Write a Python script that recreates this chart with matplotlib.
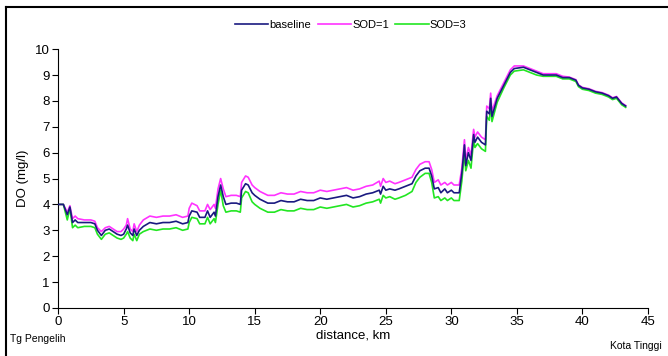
import matplotlib.pyplot as plt
from matplotlib.lines import Line2D

plt.rcParams['font.family'] = ['Liberation Sans', 'DejaVu Sans']

# jarak sepanjang sungai (km)
jarak = [0, 0.4, 0.7, 0.9, 1.1, 1.3, 1.5, 2.0, 2.5, 2.8,
         3.0, 3.3, 3.6, 3.9, 4.2, 4.5, 4.8, 5.0, 5.2, 5.3,
         5.5, 5.7, 5.8, 6.0, 6.2, 6.5, 7.0, 7.5, 8.0, 8.5,
         9.0, 9.5, 9.9, 10.0, 10.2, 10.6, 10.8, 11.2, 11.4, 11.6,
         11.9, 12.0, 12.2, 12.4, 12.6, 12.8, 13.2, 13.6, 13.9, 14.0,
         14.3, 14.5, 14.8, 15.0, 15.4, 16.0, 16.5, 17.0, 17.5, 18.0,
         18.5, 19.0, 19.5, 20.0, 20.5, 21.0, 21.5, 22.0, 22.5, 23.0,
         23.5, 24.0, 24.5, 24.6, 24.8, 25.0, 25.3, 25.7, 26.0, 26.5,
         27.0, 27.3, 27.6, 28.0, 28.3, 28.5, 28.7, 29.0, 29.2, 29.5,
         29.7, 30.0, 30.2, 30.6, 30.8, 31.0, 31.1, 31.3, 31.5, 31.7,
         31.8, 32.0, 32.3, 32.6, 32.7, 32.9, 33.0, 33.1, 33.5, 34.0,
         34.5, 34.8, 35.5, 36.0, 36.5, 37.0, 38.0, 38.5, 39.0, 39.5,
         39.7, 40.0, 40.5, 41.0, 41.5, 42.0, 42.3, 42.6, 43.0, 43.3]

baseline = [4.0, 4.0, 3.6, 3.9, 3.3, 3.4, 3.3, 3.3, 3.3, 3.25,
            3.0, 2.8, 3.0, 3.05, 2.95, 2.85, 2.8, 2.85, 3.05, 3.2,
            2.9, 2.8, 3.05, 2.8, 3.0, 3.15, 3.3, 3.25, 3.3, 3.3,
            3.35, 3.25, 3.3, 3.55, 3.75, 3.7, 3.5, 3.5, 3.75, 3.5,
            3.7, 3.55, 4.3, 4.75, 4.3, 4.0, 4.05, 4.05, 4.0, 4.55,
            4.8, 4.75, 4.45, 4.35, 4.2, 4.05, 4.05, 4.15, 4.1, 4.1,
            4.2, 4.15, 4.15, 4.25, 4.2, 4.25, 4.3, 4.35, 4.25, 4.3,
            4.4, 4.45, 4.55, 4.4, 4.7, 4.55, 4.6, 4.55, 4.6, 4.7,
            4.8, 5.1, 5.3, 5.4, 5.4, 5.1, 4.6, 4.65, 4.45, 4.6,
            4.45, 4.55, 4.45, 4.45, 5.2, 6.3, 5.5, 6.0, 5.7, 6.7,
            6.4, 6.6, 6.4, 6.3, 7.6, 7.5, 8.1, 7.4, 8.1, 8.6,
            9.1, 9.25, 9.3, 9.2, 9.1, 9.0, 9.0, 8.9, 8.9, 8.8,
            8.6, 8.5, 8.45, 8.35, 8.3, 8.2, 8.1, 8.15, 7.9, 7.8]

sod1 = [4.0, 4.0, 3.7, 3.95, 3.45, 3.55, 3.45, 3.4, 3.4, 3.35,
        3.1, 2.95, 3.1, 3.15, 3.05, 2.95, 2.95, 3.05, 3.2, 3.45,
        3.05, 2.95, 3.25, 2.95, 3.2, 3.4, 3.55, 3.5, 3.55, 3.55,
        3.6, 3.5, 3.55, 3.85, 4.05, 3.95, 3.75, 3.75, 4.0, 3.8,
        4.0, 3.85, 4.6, 5.0, 4.6, 4.3, 4.35, 4.35, 4.3, 4.85,
        5.1, 5.05, 4.75, 4.65, 4.5, 4.35, 4.35, 4.45, 4.4, 4.4,
        4.5, 4.45, 4.45, 4.55, 4.5, 4.55, 4.6, 4.65, 4.55, 4.6,
        4.7, 4.75, 4.9, 4.7, 5.0, 4.85, 4.9, 4.8, 4.85, 4.95,
        5.05, 5.35, 5.55, 5.65, 5.65, 5.35, 4.85, 4.95, 4.75, 4.85,
        4.75, 4.85, 4.75, 4.75, 5.4, 6.5, 5.7, 6.2, 5.9, 6.9,
        6.6, 6.8, 6.6, 6.5, 7.8, 7.7, 8.3, 7.6, 8.2, 8.7,
        9.2, 9.35, 9.35, 9.25, 9.15, 9.05, 9.05, 8.95, 8.92, 8.82,
        8.62, 8.52, 8.47, 8.37, 8.32, 8.22, 8.12, 8.17, 7.92, 7.82]

sod3 = [4.0, 4.0, 3.4, 3.85, 3.1, 3.2, 3.1, 3.15, 3.15, 3.1,
        2.85, 2.65, 2.85, 2.9, 2.8, 2.7, 2.65, 2.7, 2.85, 2.95,
        2.7, 2.6, 2.85, 2.6, 2.85, 2.95, 3.05, 3.0, 3.05, 3.05,
        3.1, 3.0, 3.05, 3.3, 3.5, 3.45, 3.25, 3.25, 3.5, 3.25,
        3.45, 3.3, 4.0, 4.55, 3.95, 3.7, 3.75, 3.75, 3.7, 4.25,
        4.5, 4.45, 4.1, 4.0, 3.85, 3.7, 3.7, 3.8, 3.75, 3.75,
        3.85, 3.8, 3.8, 3.9, 3.85, 3.9, 3.95, 4.0, 3.9, 3.95,
        4.05, 4.1, 4.2, 4.05, 4.35, 4.25, 4.3, 4.2, 4.25, 4.35,
        4.5, 4.85, 5.05, 5.2, 5.2, 4.85, 4.25, 4.3, 4.15, 4.25,
        4.15, 4.25, 4.15, 4.15, 4.9, 6.0, 5.3, 5.7, 5.4, 6.5,
        6.2, 6.35, 6.15, 6.05, 7.4, 7.25, 7.9, 7.2, 7.95, 8.5,
        9.0, 9.15, 9.2, 9.1, 9.0, 8.95, 8.95, 8.85, 8.85, 8.75,
        8.55, 8.45, 8.4, 8.3, 8.25, 8.15, 8.05, 8.1, 7.85, 7.75]

fig = plt.figure(figsize=(6.68, 3.56), dpi=100)
ax = fig.add_axes([0.087, 0.135, 0.883, 0.727])

ax.plot(jarak, sod1, color='#ff33ff', lw=1.2, label='SOD=1', zorder=2)
ax.plot(jarak, sod3, color='#22e622', lw=1.2, label='SOD=3', zorder=2)
ax.plot(jarak, baseline, color='#1a1a80', lw=1.2, label='baseline', zorder=3)

ax.set_xlim(0, 45)
ax.set_ylim(0, 10)
ax.set_xticks(range(0, 46, 5))
ax.set_yticks(range(0, 11))
ax.spines['top'].set_visible(False)
ax.spines['right'].set_visible(False)
ax.tick_params(direction='out', length=4, labelsize=9.5, pad=2)
ax.set_xlabel('distance, km', fontsize=9.5, labelpad=1)
ax.set_ylabel('DO (mg/l)', fontsize=9.5, labelpad=4)

# urutan legenda seperti aslinya
h = {l.get_label(): l for l in ax.get_lines()}
ax.legend([h['baseline'], h['SOD=1'], h['SOD=3']], ['baseline', 'SOD=1', 'SOD=3'],
          loc='center', bbox_to_anchor=(0.525, 0.93), bbox_transform=fig.transFigure,
          ncol=3, frameon=False, fontsize=8, handlelength=3.0, handletextpad=0.1,
          columnspacing=0.6)

fig.text(0.015, 0.04, 'Tg Pengelih', fontsize=7.5)
fig.text(0.99, 0.02, 'Kota Tinggi', fontsize=7.5, ha='right')

# bingkai luar
fig.add_artist(Line2D([0.009, 1.0], [0.98, 0.98], color='black', lw=1.5, transform=fig.transFigure))
fig.add_artist(Line2D([0.009, 0.009], [0.0, 0.98], color='black', lw=1.5, transform=fig.transFigure))

fig.savefig('out.png', dpi=100)
